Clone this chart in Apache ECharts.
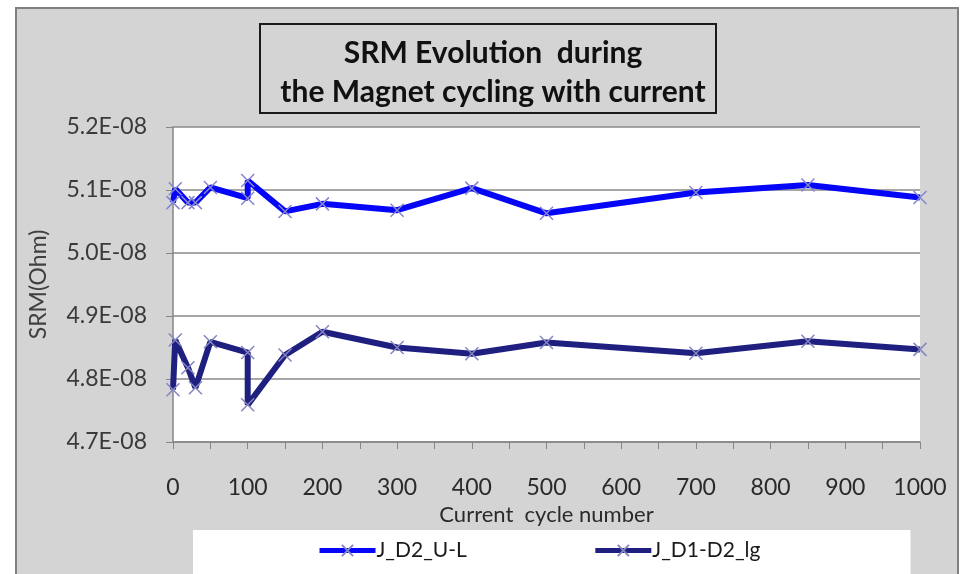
<!DOCTYPE html>
<html>
<head>
<meta charset="utf-8">
<script src="https://cdn.jsdelivr.net/npm/echarts@6/dist/echarts.min.js"></script>
<style>
  html, body { margin: 0; padding: 0; background: #ffffff; }
  #frame { position: absolute; left: 15px; top: 7px; width: 940px; height: 580px;
           background: #d4d4d4; border: 2px solid #808080; }
  #chart { position: absolute; left: 0; top: 0; width: 963px; height: 574px; }
</style>
</head>
<body>
<div id="frame"></div>
<div id="chart"></div>
<script>
// cycle numbers (x)
var cycles = [0, 3, 20, 30, 50, 100, 100, 150, 200, 300, 400, 500, 700, 850, 1000];
// SRM values, in units of 1E-08 Ohm
var srmUL = [5.080, 5.102, 5.080, 5.080, 5.104, 5.087, 5.115, 5.066, 5.078, 5.068, 5.103, 5.063, 5.096, 5.108, 5.088];
var srmLg = [4.783, 4.862, 4.818, 4.786, 4.859, 4.842, 4.759, 4.838, 4.875, 4.850, 4.840, 4.858, 4.841, 4.860, 4.847];
var names = ['J_D2_U-L', 'J_D1-D2_lg'];
var yTicks = [4.7, 5.2]; // min / max

var myChart = echarts.init(document.getElementById('chart'));

function pairs(xs, ys) {
    var out = [];
    for (var i = 0; i < xs.length; i++) out.push([xs[i], ys[i]]);
    return out;
}

var cross = 'path://M0,0 L10,10 M10,0 L0,10';
var font = 'Lato';

var option = {
    backgroundColor: 'transparent',
    title: {
        text: 'SRM Evolution  during\nthe Magnet cycling with current',
        left: 488,
        top: 29,
        textAlign: 'center',
        textStyle: {
            fontFamily: font,
            fontWeight: 'bold',
            fontSize: 30,
            lineHeight: 39,
            color: '#111111'
        }
    },
    graphic: [{
        type: 'rect',
        shape: { x: 260, y: 24, width: 456, height: 89 },
        style: { fill: 'none', stroke: '#1a1a1a', lineWidth: 2 }
    }],
    legend: {
        data: names,
        left: 193,
        top: 530,
        padding: [10, 150, 20, 124],
        backgroundColor: '#ffffff',
        itemWidth: 56,
        itemHeight: 14,
        itemGap: 126,
        lineStyle: { width: 5 },
        textStyle: { fontFamily: font, fontSize: 21, color: '#1a1a1a', padding: [0, 0, 0, -4] }
    },
    grid: {
        left: 173,
        top: 127,
        width: 747,
        height: 315,
        show: true,
        backgroundColor: '#ffffff',
        borderWidth: 0
    },
    xAxis: {
        type: 'value',
        min: 0,
        max: 1000,
        interval: 100,
        name: 'Current  cycle number',
        nameLocation: 'middle',
        nameGap: 60,
        nameTextStyle: { fontFamily: font, fontSize: 22, color: '#2a2a2a' },
        axisLine: { lineStyle: { color: '#868686', width: 1.5 } },
        axisTick: { show: true, length: 7, lineStyle: { color: '#868686' } },
        minorTick: { show: true, splitNumber: 2, length: 7, lineStyle: { color: '#868686' } },
        splitLine: { show: false },
        axisLabel: {
            fontFamily: font, fontSize: 23, color: '#2a2a2a', margin: 34,
            formatter: function (v) { return String(v); }
        }
    },
    yAxis: {
        type: 'value',
        min: yTicks[0],
        max: yTicks[1],
        interval: 0.1,
        name: 'SRM(Ohm)',
        nameLocation: 'middle',
        nameGap: 123,
        nameTextStyle: { fontFamily: font, fontSize: 23, color: '#404040' },
        axisLine: { show: true, lineStyle: { color: '#868686', width: 1.5 } },
        axisTick: { show: true, length: 7, lineStyle: { color: '#868686' } },
        splitLine: { lineStyle: { color: '#8a8a8a', width: 1.5 } },
        axisLabel: {
            fontFamily: font, fontSize: 23, color: '#3a3a3a', margin: 26,
            formatter: function (v) { return v.toFixed(1) + 'E-08'; }
        }
    },
    series: [
        {
            name: names[0],
            type: 'line',
            data: pairs(cycles, srmUL),
            clip: false,
            symbol: cross,
            symbolSize: 13,
            lineStyle: { color: '#0505f8', width: 6 },
            itemStyle: { color: '#0505f8', borderColor: '#8585d0', borderWidth: 1.5 }
        },
        {
            name: names[1],
            type: 'line',
            data: pairs(cycles, srmLg),
            clip: false,
            symbol: cross,
            symbolSize: 13,
            lineStyle: { color: '#1f1f80', width: 6 },
            itemStyle: { color: '#1f1f80', borderColor: '#8585c0', borderWidth: 1.5 }
        }
    ]
};

myChart.setOption(option);
</script>
</body>
</html>
